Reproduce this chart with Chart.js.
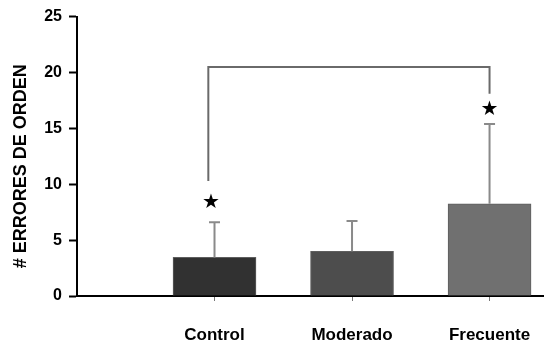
<!DOCTYPE html>
<html>
<head>
<meta charset="utf-8">
<script src="https://cdn.jsdelivr.net/npm/chart.js@4.4.1/dist/chart.umd.min.js"></script>
<style>
  html, body { margin: 0; padding: 0; background: #fff; }
  #wrap { width: 544px; height: 344px; }
</style>
</head>
<body>
<div id="wrap"><canvas id="chart" width="544" height="344"></canvas></div>
<script>
// datos del gráfico
const categorias = ['Control', 'Moderado', 'Frecuente'];
const errores = [3.45, 4.0, 8.25];        // media
const desviacion = [3.15, 2.7, 7.15];     // barra de error (solo hacia arriba)
const coloresBarra = ['#313131', '#4d4d4d', '#707070'];
const yTicks = [0, 5, 10, 15, 20, 25];

// corchete de significancia (en unidades de datos)
const corcheteX = [0.955, 0.955, 3, 3];
const corcheteY = [10.3, 20.5, 20.5, 18.1];
// estrellas de significancia
const estrellasX = [0.975, 3];
const estrellasY = [8.3, 16.7];

const posX = categorias.map((c, i) => i + 1);
const xMax = 3.396; // el eje X sigue hasta el borde derecho

// barras de error y estrellas
const extrasPlugin = {
  id: 'extras',
  afterDatasetsDraw(chart) {
    const ctx = chart.ctx;
    const xs = chart.scales.x, ys = chart.scales.y;
    const meta = chart.getDatasetMeta(0);
    ctx.save();
    ctx.strokeStyle = '#8a8a8a';
    ctx.lineWidth = 2;
    meta.data.forEach((bar, i) => {
      const yTop = ys.getPixelForValue(errores[i] + desviacion[i]);
      ctx.beginPath();
      ctx.moveTo(bar.x, bar.y);
      ctx.lineTo(bar.x, yTop);
      ctx.moveTo(bar.x - 5.5, yTop);
      ctx.lineTo(bar.x + 5.5, yTop);
      ctx.stroke();
    });
    ctx.fillStyle = '#000';
    ctx.font = '20px "DejaVu Sans"';
    ctx.textAlign = 'center';
    ctx.textBaseline = 'middle';
    estrellasX.forEach((x, i) => {
      ctx.fillText('★', xs.getPixelForValue(x), ys.getPixelForValue(estrellasY[i]));
    });
    ctx.restore();
  }
};

new Chart(document.getElementById('chart'), {
  type: 'bar',
  data: {
    datasets: [{
      type: 'bar',
      data: posX.map((x, i) => ({ x: x, y: errores[i] })),
      backgroundColor: coloresBarra,
      borderColor: '#5e5e5e',
      borderWidth: 1,
      barThickness: 83
    }, {
      type: 'line',
      data: corcheteX.map((x, i) => ({ x: x, y: corcheteY[i] })),
      borderColor: '#6a6a6a',
      borderWidth: 2,
      pointRadius: 0,
      fill: false,
      tension: 0
    }]
  },
  options: {
    responsive: false,
    animation: false,
    layout: { autoPadding: false, padding: { top: 15, right: 0, left: 10, bottom: 0 } },
    plugins: { legend: { display: false }, tooltip: { enabled: false } },
    scales: {
      x: {
        type: 'linear',
        min: 0,
        max: xMax,
        bounds: 'data',
        offset: false,
        afterBuildTicks: s => {
          s.ticks = posX.map(v => ({ value: v }));
          s.min = 0;
          s.max = xMax;
        },
        afterFit: s => {
          s.height = 48;
          s.paddingLeft = 0;
          s.paddingRight = 0;
        },
        ticks: {
          callback: v => categorias[v - 1],
          color: '#000',
          font: { family: 'Liberation Sans', size: 17, weight: 'bold' },
          padding: 24,
          maxRotation: 0
        },
        grid: { offset: false, drawOnChartArea: false, tickLength: 5, tickColor: '#777', tickWidth: 1 },
        border: { color: '#000', width: 2 }
      },
      y: {
        min: 0,
        max: 25,
        afterBuildTicks: s => { s.ticks = yTicks.map(v => ({ value: v })); },
        afterFit: s => { s.width = 67; },
        ticks: {
          color: '#000',
          font: { family: 'Liberation Sans', size: 16, weight: 'bold' },
          padding: 7
        },
        grid: { drawOnChartArea: false, tickLength: 8, tickColor: '#000', tickWidth: 2 },
        border: { color: '#000', width: 2 },
        title: {
          display: true,
          text: '# ERRORES DE ORDEN\u00a0\u00a0\u00a0\u00a0',
          color: '#000',
          font: { family: 'Liberation Sans', size: 18, weight: 'bold' },
          padding: { top: 0, bottom: 0 }
        }
      }
    }
  },
  plugins: [extrasPlugin]
});
</script>
</body>
</html>
